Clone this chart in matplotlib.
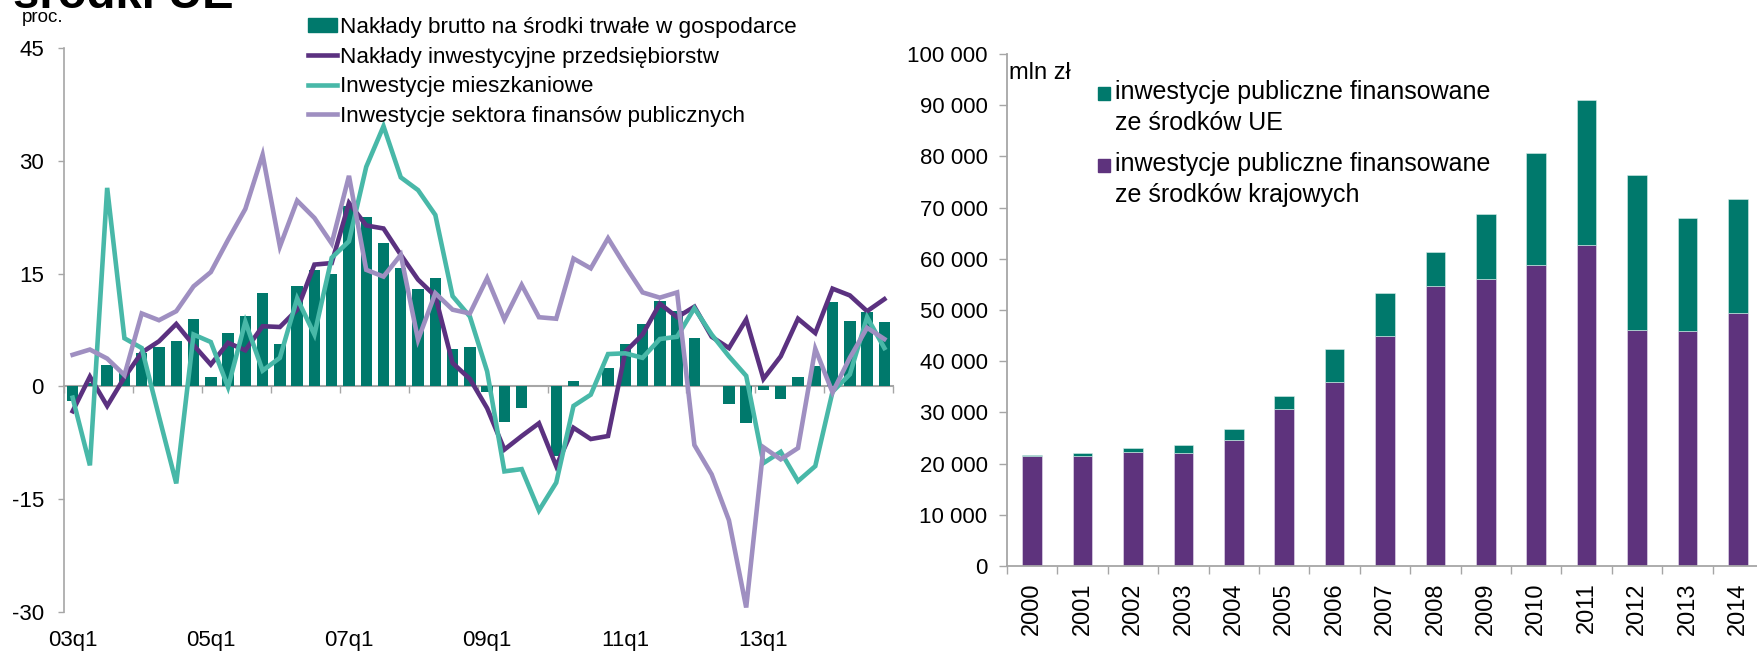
import numpy as np
import matplotlib
matplotlib.use("Agg")
import matplotlib.pyplot as plt
from matplotlib.patches import Rectangle
from matplotlib.lines import Line2D
from matplotlib.ticker import FuncFormatter

plt.rcParams['font.family'] = ['Liberation Sans', 'DejaVu Sans']
plt.rcParams['axes.unicode_minus'] = False

# ---------------- data: left chart (quarterly, % y/y) ----------------
quarters = [f"{y:02d}q{q}" for y in range(3, 15) for q in range(1, 5)]
tick_labels = ["03q1", "05q1", "07q1", "09q1", "11q1", "13q1"]

naklady_brutto = [-2.0, 0.5, 2.8, 2.0, 4.5, 5.3, 6.0, 8.9, 1.3, 7.1, 9.4, 12.4,
                  5.6, 13.4, 15.5, 14.9, 24.0, 22.5, 19.1, 15.8, 12.9, 14.4, 5.0, 5.2,
                  -0.7, -4.7, -2.9, 0.0, -9.3, 0.7, 0.1, 2.5, 5.6, 8.3, 11.4, 10.0,
                  6.5, 0.05, -2.3, -4.9, -0.5, -1.7, 1.3, 2.7, 11.2, 8.7, 9.9, 8.6]

naklady_przeds = [-3.3, 1.3, -2.6, 1.2, 4.5, 6.0, 8.3, 5.5, 2.9, 5.8, 4.8, 8.0,
                  7.9, 10.2, 16.2, 16.4, 24.4, 21.4, 21.0, 17.5, 14.2, 12.0, 3.1, 1.0,
                  -2.9, -8.4, -6.6, -4.9, -10.6, -5.5, -7.0, -6.6, 4.6, 6.9, 11.0, 9.2,
                  10.6, 6.6, 5.1, 8.9, 1.0, 4.0, 9.0, 7.1, 13.0, 12.1, 10.0, 11.6]

inw_mieszk = [-1.5, -10.5, 26.4, 6.4, 5.1, -4.0, -12.9, 6.9, 5.9, -0.1, 8.6, 2.1,
              3.8, 11.7, 6.9, 17.1, 19.3, 29.2, 34.6, 27.8, 26.1, 22.8, 12.0, 9.3,
              2.0, -11.3, -11.0, -16.5, -12.8, -2.6, -1.1, 4.3, 4.4, 3.8, 6.3, 6.6,
              10.4, 6.9, 4.0, 1.4, -10.2, -8.7, -12.6, -10.6, -0.7, 1.6, 9.2, 5.1]

inw_publ = [4.2, 4.9, 3.7, 1.5, 9.7, 8.8, 10.0, 13.3, 15.2, 19.5, 23.6, 30.8,
            18.6, 24.7, 22.4, 19.0, 28.0, 15.5, 14.6, 17.5, 6.2, 12.4, 10.2, 9.7,
            14.4, 8.9, 13.5, 9.2, 9.0, 17.0, 15.7, 19.7, 16.0, 12.5, 11.8, 12.5,
            -7.8, -11.7, -17.8, -29.4, -8.1, -9.7, -8.2, 5.0, -0.8, 3.8, 7.8, 6.3]

series_names = ["Nakłady brutto na środki trwałe w gospodarce",
                "Nakłady inwestycyjne przedsiębiorstw",
                "Inwestycje mieszkaniowe",
                "Inwestycje sektora finansów publicznych"]

# ---------------- data: right chart (mln zł) ----------------
years = [str(y) for y in range(2000, 2015)]
publ_krajowe = [21400, 21500, 22200, 22100, 24700, 30700, 35900, 45000, 54600,
                56000, 58800, 62700, 46100, 45900, 49500]
publ_total = [21600, 22000, 23000, 23600, 26700, 33200, 42400, 53400, 61300,
              68800, 80600, 91100, 76400, 68000, 71600]
publ_ue = [t - k for t, k in zip(publ_total, publ_krajowe)]
legend_right = ["inwestycje publiczne finansowane\nze środków UE",
                "inwestycje publiczne finansowane\nze środków krajowych"]

# ---------------- styling ----------------
W, H = 1757, 653
C_BAR = '#00796C'
C_PURPLE = '#5B3180'
C_TEAL = '#48B8A8'
C_LAV = '#9F8FC1'
C_BAR_PURPLE = '#5E337D'
GRAY = '#A6A6A6'

fig = plt.figure(figsize=(W / 100, H / 100), dpi=100)

def fx(px):
    return px / W

def fy(py):
    return 1 - py / H

# ---------------- left chart ----------------
ax1 = fig.add_axes([fx(64), fy(612), fx(893 - 64), (612 - 48) / H])
x = np.arange(len(quarters))
ax1.bar(x, naklady_brutto, width=0.66, color=C_BAR, zorder=2)
ax1.plot(x, naklady_przeds, color=C_PURPLE, lw=3.3, zorder=3, solid_joinstyle='miter')
ax1.plot(x, inw_mieszk, color=C_TEAL, lw=3.3, zorder=4, solid_joinstyle='miter')
ax1.plot(x, inw_publ, color=C_LAV, lw=3.3, zorder=5, solid_joinstyle='miter')
ax1.set_xlim(-0.5, len(quarters) - 0.5)
ax1.set_ylim(-30, 45)
ax1.set_yticks([-30, -15, 0, 15, 30, 45])
ax1.tick_params(axis='y', direction='out', length=4.5, width=1, color=GRAY,
                labelsize=16, pad=10)
for s in ['top', 'right']:
    ax1.spines[s].set_visible(False)
ax1.spines['left'].set_color(GRAY)
ax1.spines['left'].set_linewidth(1.2)
ax1.spines['bottom'].set_position(('data', 0))
ax1.spines['bottom'].set_color(GRAY)
ax1.spines['bottom'].set_linewidth(1.5)
ax1.spines['bottom'].set_zorder(1)
ax1.set_xticks(np.arange(-0.5, len(quarters), 4))
ax1.set_xticklabels([])
ax1.tick_params(axis='x', direction='out', length=5, width=1, color=GRAY)
sec = ax1.secondary_xaxis('bottom')
sec.set_xticks([quarters.index(t) for t in tick_labels], labels=tick_labels)
sec.tick_params(length=0, labelsize=16, pad=13)
sec.spines['bottom'].set_visible(False)

handles = [Rectangle((0, 0), 1, 1, color=C_BAR),
           Line2D([], [], color=C_PURPLE, lw=3.3),
           Line2D([], [], color=C_TEAL, lw=3.3),
           Line2D([], [], color=C_LAV, lw=3.3)]
fig.legend(handles, series_names, loc='upper left', bbox_to_anchor=(fx(308), fy(17)),
           frameon=False, fontsize=16.2, handlelength=1.3, handleheight=0.6,
           handletextpad=0.1, labelspacing=0.38, borderpad=0, borderaxespad=0)

fig.text(fx(22), fy(18), "proc.", fontsize=13.5, va='center', ha='left')
fig.text(fx(13), fy(8), "środki UE", fontsize=34, fontweight='bold',
         va='baseline', ha='left')

# ---------------- right chart ----------------
ax2 = fig.add_axes([fx(1007), fy(566), fx(1763 - 1007), (566 - 54) / H])
xr = np.arange(len(years))
ax2.bar(xr, publ_krajowe, width=0.39, color=C_BAR_PURPLE, edgecolor='#E8E0F0',
        linewidth=0.4, zorder=2)
ax2.bar(xr, publ_ue, bottom=publ_krajowe, width=0.39, color=C_BAR,
        edgecolor='#D8EEEA', linewidth=0.4, zorder=2)
ax2.set_xlim(-0.5, len(years) - 0.5)
ax2.set_ylim(0, 100000)
ax2.set_yticks(np.arange(0, 100001, 10000))
ax2.yaxis.set_major_formatter(FuncFormatter(lambda v, p: f"{int(v):,}".replace(",", " ")))
ax2.tick_params(axis='y', direction='out', length=6, width=1, color=GRAY,
                labelsize=16, pad=8)
for s in ['top', 'right']:
    ax2.spines[s].set_visible(False)
for s in ['left', 'bottom']:
    ax2.spines[s].set_color(GRAY)
    ax2.spines[s].set_linewidth(1.3)
ax2.set_xticks(np.arange(-0.5, len(years), 1))
ax2.set_xticklabels([])
ax2.tick_params(axis='x', which='major', direction='out', length=6, width=1, color=GRAY)
ax2.set_xticks(xr, labels=years, minor=True)
ax2.tick_params(axis='x', which='minor', length=0, labelsize=17, pad=12,
                labelrotation=90)

fig.text(fx(1009), fy(73), "mln zł", fontsize=17, va='center', ha='left')

# legend for right chart (squares aligned with the first line of each label)
leg_colors = [C_BAR, C_BAR_PURPLE]
leg_first_line = [93, 165]
for col, lab, ypx in zip(leg_colors, legend_right, leg_first_line):
    fig.patches.append(Rectangle((fx(1098), fy(ypx + 6.5)), fx(12), 13 / H,
                                 transform=fig.transFigure, color=col))
    fig.text(fx(1115), fy(ypx + 14.5), lab, fontsize=18, va='center',
             ha='left', linespacing=1.35)

fig.savefig("out.png", dpi=100)
